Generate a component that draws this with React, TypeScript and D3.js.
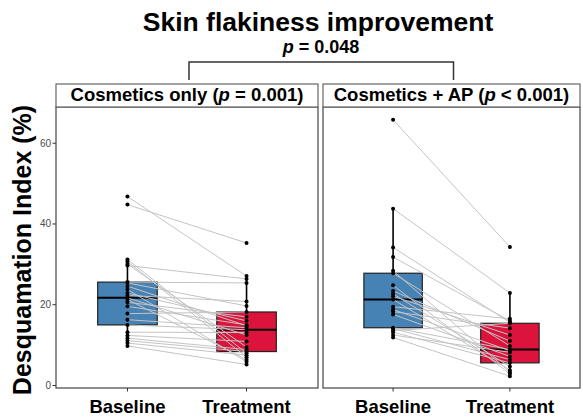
import React from "react";
import * as d3 from "d3";

const categories = ["Baseline", "Treatment"];
const panelNames = ["Cosmetics only", "Cosmetics + AP"];
const panelPValues = ["= 0.001", "< 0.001"];
const overallP = "= 0.048";
const yTicks = [0, 20, 40, 60];

// paired by index: baseline[i] -> treatment[i]
const cosmeticsBaseline = [
  46.8, 44.8, 31.2, 30.7, 30.1, 29.7, 25.6, 25.4, 24.6, 23.8, 22.9, 22.3, 21.7,
  21.3, 20.6, 19.6, 17.8, 16.3, 15.0, 13.2, 12.4, 11.7, 11.1, 10.5, 9.8,
];
const cosmeticsTreatment = [
  27.1, 35.3, 8.0, 7.0, 9.5, 26.4, 25.4, 19.7, 14.8, 5.9, 16.0, 20.8, 12.5,
  6.4, 17.0, 15.0, 18.2, 14.3, 13.8, 13.1, 10.9, 8.9, 8.4, 7.5, 5.2,
];
const apBaseline = [
  65.8, 43.8, 34.2, 31.8, 28.4, 27.8, 24.8, 23.4, 22.7, 22.1, 21.3, 19.5, 18.8,
  18.3, 17.6, 14.3, 14.1, 13.6, 13.2, 12.5, 11.9,
];
const apTreatment = [
  34.3, 22.9, 15.6, 16.0, 3.3, 9.8, 2.9, 11.0, 4.7, 12.5, 3.8, 16.5, 8.6, 14.2,
  7.2, 8.9, 6.4, 15.4, 5.6, 8.2, 2.3,
];

const groups = [
  [cosmeticsBaseline, cosmeticsTreatment],
  [apBaseline, apTreatment],
];
const fills = ["#4682B4", "#DC143C"];

const FONT = "'Liberation Sans', Arial, sans-serif";

function boxStats(values: number[]) {
  const s = [...values].sort(d3.ascending);
  const q1 = d3.quantile(s, 0.25)!;
  const med = d3.quantile(s, 0.5)!;
  const q3 = d3.quantile(s, 0.75)!;
  const iqr = q3 - q1;
  const lo = d3.min(s.filter((v) => v >= q1 - 1.5 * iqr))!;
  const hi = d3.max(s.filter((v) => v <= q3 + 1.5 * iqr))!;
  return { q1, med, q3, lo, hi };
}

export default function App() {
  const width = 583;
  const height = 420;
  const top = 107;
  const bottom = 388;
  const stripTop = 84;
  const panels = [
    { x0: 56, x1: 318 },
    { x0: 323, x1: 580 },
  ];

  const all = groups.flat(2);
  const [mn, mx] = d3.extent(all) as [number, number];
  const pad = (mx - mn) * 0.05;
  const y = d3
    .scaleLinear()
    .domain([mn - pad, mx + pad])
    .range([bottom + 1, top]);

  const centers = panels.map((p) => (p.x0 + p.x1) / 2);

  return (
    <svg
      width={width}
      height={height}
      style={{ position: "absolute", left: 0, top: 0, background: "#fff" }}
      fontFamily={FONT}
    >
      <text x={318} y={31} textAnchor="middle" fontWeight="bold" fontSize={26.5}>
        Skin flakiness improvement
      </text>
      <text x={321} y={53} textAnchor="middle" fontWeight="bold" fontSize={18}>
        <tspan fontStyle="italic">p</tspan> {overallP}
      </text>
      <path
        d={`M${centers[0] + 2},80V62H${centers[1] + 2}V80`}
        fill="none"
        stroke="#333"
        strokeWidth={1.5}
      />

      {/* y axis */}
      <text
        transform={`translate(31,250) rotate(-90)`}
        textAnchor="middle"
        fontWeight="bold"
        fontSize={25}
      >
        Desquamation Index (%)
      </text>
      {yTicks.map((t) => (
        <g key={t}>
          <line x1={52.5} x2={56} y1={y(t)} y2={y(t)} stroke="#333" />
          <text
            x={51}
            y={y(t)}
            dy="0.35em"
            textAnchor="end"
            fontSize={10}
            fill="#4d4d4d"
          >
            {t}
          </text>
        </g>
      ))}

      {panels.map((p, pi) => {
        const x = d3
          .scalePoint<string>()
          .domain(categories)
          .range([p.x0, p.x1])
          .padding(0.6);
        const bw = x.step() * 0.5;
        const [base, treat] = groups[pi];
        return (
          <g key={pi}>
            <rect
              x={p.x0}
              y={top}
              width={p.x1 - p.x0}
              height={bottom - top}
              fill="#fff"
              stroke="#444"
              strokeWidth={1.2}
            />
            <rect
              x={p.x0}
              y={stripTop}
              width={p.x1 - p.x0}
              height={top - stripTop}
              fill="#fff"
              stroke="#666"
              strokeWidth={1.2}
            />
            <text
              x={(p.x0 + p.x1) / 2}
              y={101}
              textAnchor="middle"
              fontWeight="bold"
              fontSize={18.5}
            >
              {panelNames[pi]} (<tspan fontStyle="italic">p</tspan> {panelPValues[pi]})
            </text>

            {groups[pi].map((vals, ci) => {
              const st = boxStats(vals);
              const cx = x(categories[ci])!;
              return (
                <g key={ci}>
                  <line x1={cx} x2={cx} y1={y(st.hi)} y2={y(st.q3)} stroke="#000" strokeWidth={1.6} />
                  <line x1={cx} x2={cx} y1={y(st.q1)} y2={y(st.lo)} stroke="#000" strokeWidth={1.6} />
                  <rect
                    x={cx - bw / 2}
                    y={y(st.q3)}
                    width={bw}
                    height={y(st.q1) - y(st.q3)}
                    fill={fills[ci]}
                    stroke="#222"
                    strokeWidth={1.2}
                  />
                  <line
                    x1={cx - bw / 2}
                    x2={cx + bw / 2}
                    y1={y(st.med)}
                    y2={y(st.med)}
                    stroke="#000"
                    strokeWidth={2}
                  />
                </g>
              );
            })}

            {base.map((b, i) => (
              <line
                key={i}
                x1={x(categories[0])}
                x2={x(categories[1])}
                y1={y(b)}
                y2={y(treat[i])}
                stroke="#c4c4c4"
                strokeWidth={1}
              />
            ))}

            {groups[pi].map((vals, ci) =>
              vals.map((v, i) => (
                <circle key={`${ci}-${i}`} cx={x(categories[ci])} cy={y(v)} r={2} fill="#000" />
              ))
            )}

            {categories.map((c) => (
              <g key={c}>
                <line x1={x(c)} x2={x(c)} y1={bottom} y2={bottom + 3.5} stroke="#333" />
                <text
                  x={x(c)}
                  y={413}
                  textAnchor="middle"
                  fontWeight="bold"
                  fontSize={18.5}
                >
                  {c}
                </text>
              </g>
            ))}
          </g>
        );
      })}
    </svg>
  );
}
